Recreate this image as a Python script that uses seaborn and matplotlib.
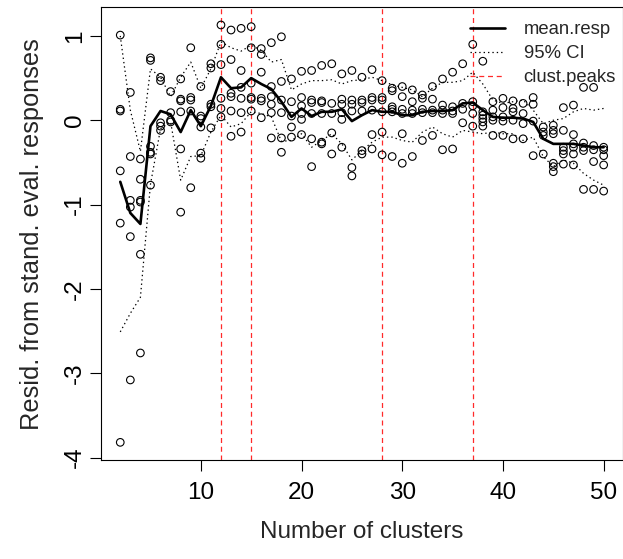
import pandas as pd
import matplotlib
matplotlib.use("Agg")
import matplotlib.pyplot as plt
from matplotlib.lines import Line2D
import seaborn as sns


# ---------------------------
# Data
# ---------------------------

clusters = list(range(2, 51))

resid_points = [
    [1.01, 0.13, 0.11, -0.60, -1.22, -3.82],   # 2
    [0.33, -0.43, -0.95, -1.03, -1.38, -3.08],  # 3
    [-0.46, -0.70, -0.95, -0.97, -1.59, -2.76], # 4
    [0.74, 0.71, -0.31, -0.38, -0.40, -0.77],   # 5
    [0.51, 0.47, -0.03, -0.07, -0.12],          # 6
    [0.34, 0.09, 0.00, -0.02],                  # 7
    [0.49, 0.25, 0.23, 0.10, -0.34, -1.09],     # 8
    [0.86, 0.27, 0.24, 0.11, -0.80],            # 9
    [0.40, 0.05, 0.02, -0.08, -0.39, -0.45],    # 10
    [0.67, 0.62, 0.19, 0.16, -0.09],            # 11
    [1.13, 0.90, 0.66, 0.26, 0.14, 0.04],       # 12
    [1.07, 0.72, 0.32, 0.28, 0.11, -0.19],      # 13
    [1.09, 0.59, 0.39, 0.26, 0.09, -0.14],      # 14
    [1.11, 0.86, 0.44, 0.27, 0.25, 0.11],       # 15
    [0.85, 0.78, 0.57, 0.26, 0.23, 0.03],       # 16
    [0.92, 0.40, 0.28, 0.19, 0.09, -0.21],      # 17
    [0.99, 0.46, 0.24, 0.09, -0.21, -0.38],     # 18
    [0.49, 0.22, 0.05, -0.08, -0.20],           # 19
    [0.58, 0.27, 0.17, 0.08, 0.01, -0.17],      # 20
    [0.59, 0.24, 0.21, 0.08, -0.22, -0.55],     # 21
    [0.65, 0.23, 0.21, 0.08, -0.26, -0.28],     # 22
    [0.67, 0.20, 0.08, -0.15, -0.40],           # 23
    [0.55, 0.25, 0.19, 0.09, 0.01, -0.32],      # 24
    [0.59, 0.24, 0.19, 0.11, -0.56, -0.66],     # 25
    [0.51, 0.24, 0.21, 0.11, -0.36, -0.40],     # 26
    [0.60, 0.27, 0.24, 0.12, -0.17, -0.34],     # 27
    [0.47, 0.27, 0.24, 0.10, -0.14, -0.41],     # 28
    [0.38, 0.35, 0.16, 0.13, 0.10, -0.43],      # 29
    [0.40, 0.28, 0.13, 0.08, -0.16, -0.51],     # 30
    [0.36, 0.22, 0.12, 0.08, -0.43],            # 31
    [0.30, 0.26, 0.13, 0.09, -0.24],            # 32
    [0.40, 0.25, 0.12, 0.09, -0.18],            # 33
    [0.49, 0.18, 0.12, 0.08, -0.35],            # 34
    [0.57, 0.16, 0.11, 0.08, -0.34],            # 35
    [0.67, 0.20, 0.13, -0.03],                  # 36
    [0.90, 0.22, 0.17, 0.08, -0.07],            # 37
    [0.70, 0.10, 0.06, 0.02, -0.02, -0.07],     # 38
    [0.22, 0.12, 0.04, 0.00, -0.18],            # 39
    [0.26, 0.15, 0.04, -0.01, -0.18],           # 40
    [0.23, 0.14, 0.10, 0.00, -0.22],            # 41
    [0.20, 0.08, -0.04, -0.22],                 # 42
    [0.27, 0.19, -0.01, -0.42],                 # 43
    [-0.08, -0.14, -0.18, -0.40],               # 44
    [-0.06, -0.12, -0.16, -0.51, -0.55, -0.61], # 45
    [0.15, -0.12, -0.32, -0.36, -0.40, -0.52],  # 46
    [0.18, -0.17, -0.28, -0.32, -0.40, -0.53],  # 47
    [0.39, -0.27, -0.32, -0.36, -0.82],         # 48
    [0.39, -0.30, -0.35, -0.49, -0.82],         # 49
    [-0.32, -0.35, -0.42, -0.53, -0.84],        # 50
]

mean_resp = [-0.73, -1.10, -1.23, -0.07, 0.11, 0.07, -0.14, 0.12, -0.07, 0.17,
             0.51, 0.38, 0.39, 0.50, 0.43, 0.37, 0.22, 0.04, 0.14, 0.05,
             0.10, 0.10, 0.13, -0.01, 0.06, 0.12, 0.10, 0.10, 0.06, 0.06,
             0.10, 0.11, 0.11, 0.12, 0.20, 0.21, 0.12, 0.04, 0.03, 0.03,
             0.02, -0.02, -0.22, -0.28, -0.28, -0.28, -0.30, -0.32, -0.32]

ci_upper = [1.00, 0.12, -0.37, 0.61, 0.51, 0.28, 0.51, 0.69, 0.38, 0.61,
            0.93, 0.86, 0.82, 0.89, 0.83, 0.69, 0.72, 0.36, 0.43, 0.47,
            0.47, 0.48, 0.43, 0.47, 0.48, 0.51, 0.47, 0.42, 0.39, 0.36,
            0.28, 0.38, 0.45, 0.45, 0.47, 0.57, 0.43, 0.24, 0.20, 0.22,
            0.24, 0.12, -0.04, 0.00, 0.02, 0.10, 0.14, 0.12, 0.14]

ci_lower = [-2.51, -2.29, -2.10, -0.76, -0.10, -0.02, -0.71, -0.43, -0.42, -0.14,
            0.06, -0.08, -0.04, 0.10, 0.08, 0.04, -0.25, -0.24, -0.16, -0.32,
            -0.24, -0.16, -0.28, -0.47, -0.36, -0.26, -0.20, -0.20, -0.24, -0.26,
            -0.14, -0.08, -0.16, -0.20, -0.12, -0.14, -0.16, -0.14, -0.16, -0.16,
            -0.24, -0.20, -0.43, -0.55, -0.47, -0.51, -0.63, -0.71, -0.77]

clust_peaks = [12, 15, 28, 37]


# ---------------------------
# Tables
# ---------------------------

rows = [(k, v) for k, vals in zip(clusters, resid_points) for v in vals]
pts = pd.DataFrame(rows, columns=["k", "resid"])
summ = pd.DataFrame({"k": clusters, "mean": mean_resp, "lo": ci_lower, "hi": ci_upper})


# ---------------------------
# Plot
# ---------------------------

sns.set_style("ticks")
plt.rcParams["font.family"] = ["Liberation Sans", "DejaVu Sans"]
plt.rcParams["axes.unicode_minus"] = False

fig = plt.figure(figsize=(6.23, 5.59), dpi=100)
ax = fig.add_axes([0.162, 0.177, 0.838, 0.810])

sns.scatterplot(data=pts, x="k", y="resid", ax=ax, marker="o", s=30,
                facecolors="none", edgecolor="black", linewidth=0.8, zorder=3)

sns.lineplot(data=summ, x="k", y="mean", ax=ax, estimator=None,
             color="black", linewidth=1.9, zorder=4)
for col in ["lo", "hi"]:
    sns.lineplot(data=summ, x="k", y=col, ax=ax, estimator=None,
                 color="black", linewidth=0.9, linestyle=(0, (1.1, 2.4)), zorder=2)

for p in clust_peaks:
    ax.axvline(p, color="#ff2a2a", linewidth=0.9, linestyle=(0, (4, 3)), zorder=1)

ax.set_xlim(0.08, 51.92)
ax.set_ylim(-4.03, 1.34)
ax.set_xticks([10, 20, 30, 40, 50])
ax.set_yticks([1, 0, -1, -2, -3, -4])

ax.tick_params(axis="both", direction="out", length=8, width=0.8,
               labelsize=17.5, colors="black")
ax.tick_params(axis="x", pad=8)
ax.tick_params(axis="y", pad=3)
for lab in ax.get_yticklabels():
    lab.set_rotation(90)
    lab.set_va("center")

for sp in ax.spines.values():
    sp.set_linewidth(0.8)
    sp.set_color("black")

ax.set_xlabel("Number of clusters", fontsize=17.5, labelpad=12)
ax.set_ylabel("Resid. from stand. eval. responses", fontsize=18.3, labelpad=14)

handles = [
    Line2D([], [], color="black", linewidth=1.9),
    Line2D([], [], color="black", linewidth=0.9, linestyle=(0, (1.1, 2.4))),
    Line2D([], [], color="#ff2a2a", linewidth=0.9, linestyle=(0, (4, 3))),
]
ax.legend(handles, ["mean.resp", "95% CI", "clust.peaks"], loc="upper left",
          bbox_to_anchor=(0.707, 0.969), frameon=False, fontsize=13.3,
          borderpad=0, borderaxespad=0, handlelength=1.9, handletextpad=1.0,
          labelspacing=0.37)

plt.savefig("out.png", dpi=100)
